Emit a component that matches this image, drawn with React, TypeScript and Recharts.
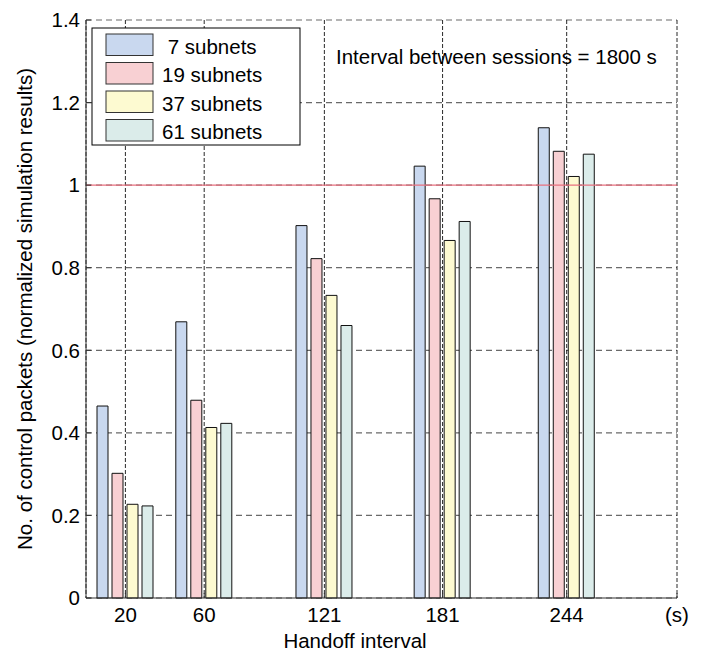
import React from "react";
import {
  Bar,
  CartesianGrid,
  ComposedChart,
  Label,
  ReferenceLine,
  XAxis,
  YAxis,
} from "recharts";

// handoff intervals (s)
const intervals = [20, 60, 121, 181, 244];
const subnets7 = [0.465, 0.669, 0.902, 1.046, 1.139];
const subnets19 = [0.302, 0.479, 0.822, 0.967, 1.082];
const subnets37 = [0.227, 0.413, 0.733, 0.866, 1.021];
const subnets61 = [0.223, 0.423, 0.66, 0.912, 1.075];

const seriesNames = [" 7 subnets", "19 subnets", "37 subnets", "61 subnets"];
const seriesKeys = ["s7", "s19", "s37", "s61"];
const seriesColors = ["#c9d8ef", "#f8d0d3", "#fdfad1", "#dbecea"];

const xTicks = [20, 60, 121, 181, 244, 300];
const yTicks = [0, 0.2, 0.4, 0.6, 0.8, 1, 1.2, 1.4];
const annotation = "Interval between sessions = 1800 s";

const data = intervals.map((x, i) => ({
  x,
  s7: subnets7[i],
  s19: subnets19[i],
  s37: subnets37[i],
  s61: subnets61[i],
}));

const FONT = '"Liberation Sans", Arial, Helvetica, sans-serif';
const FS = 20.5;
const W = 688;
const H = 645;

const tickStyle = { fontSize: FS, fill: "#000", fontFamily: FONT };

export default function App() {
  return (
    <div style={{ position: "relative", width: W, height: H, fontFamily: FONT }}>
      <ComposedChart
        width={W}
        height={H}
        data={data}
        margin={{ top: 12, right: 19, bottom: 25, left: 0 }}
        barGap={4}
      >
        <CartesianGrid vertical={false} stroke="#6a6a6a" strokeDasharray="6 4" strokeWidth={1.2} />
        <CartesianGrid horizontal={false} stroke="#111" strokeDasharray="4 2" strokeWidth={0.9} />
        <XAxis
          dataKey="x"
          type="number"
          domain={[0, 300]}
          ticks={xTicks}
          tickFormatter={(v) => (v === 300 ? "(s)" : String(v))}
          tick={tickStyle}
          tickSize={-5}
          tickMargin={14}
          height={30}
          axisLine={{ stroke: "#333" }}
          tickLine={{ stroke: "#333" }}
          interval={0}
        >
          <Label
            content={({ viewBox }: any) => (
              <text
                x={viewBox.x + viewBox.width / 2 - 26.5}
                y={viewBox.y + 50}
                textAnchor="middle"
                fontSize={FS}
                fontFamily={FONT}
                fill="#000"
              >
                Handoff interval
              </text>
            )}
          />
        </XAxis>
        <XAxis
          xAxisId="top"
          orientation="top"
          type="number"
          domain={[0, 300]}
          ticks={xTicks.slice(0, 5)}
          tick={false}
          tickSize={-5}
          height={0}
          axisLine={{ stroke: "#333" }}
          tickLine={{ stroke: "#333" }}
        />
        <YAxis
          type="number"
          domain={[0, 1.4]}
          ticks={yTicks}
          tick={tickStyle}
          tickSize={-5}
          tickMargin={11}
          width={78}
          axisLine={{ stroke: "#333" }}
          tickLine={{ stroke: "#333" }}
          interval={0}
        >
          <Label
            content={({ viewBox }: any) => {
              const cx = viewBox.x + 24;
              const cy = viewBox.y + viewBox.height / 2;
              return (
                <text
                  x={cx}
                  y={cy}
                  transform={`rotate(-90, ${cx}, ${cy})`}
                  textAnchor="middle"
                  fontSize={FS}
                  fontFamily={FONT}
                  fill="#000"
                >
                  No. of control packets (normalized simulation results)
                </text>
              );
            }}
          />
        </YAxis>
        <YAxis
          yAxisId="right"
          orientation="right"
          type="number"
          domain={[0, 1.4]}
          ticks={yTicks}
          tick={false}
          tickSize={-5}
          width={0}
          axisLine={{ stroke: "#333" }}
          tickLine={{ stroke: "#333" }}
        />
        {seriesKeys.map((k, i) => (
          <Bar
            key={k}
            dataKey={k}
            name={seriesNames[i]}
            fill={seriesColors[i]}
            stroke="#111"
            strokeWidth={1}
            barSize={11}
            isAnimationActive={false}
          />
        ))}
        <ReferenceLine y={1} stroke="#e8707f" strokeWidth={1.4} />
      </ComposedChart>

      <svg
        width={W}
        height={H}
        style={{ position: "absolute", left: 0, top: 0, pointerEvents: "none" }}
      >
        <text x={328} y={56.3} fontSize={FS} fontFamily={FONT} fill="#000">
          {annotation}
        </text>
        <rect x={84} y={20} width={208} height={117} fill="#fff" stroke="#000" strokeWidth={1} />
        {seriesNames.map((n, i) => (
          <g key={n}>
            <rect
              x={98}
              y={26 + i * 28.5}
              width={47}
              height={21.5}
              fill={seriesColors[i]}
              stroke="#333"
              strokeWidth={1}
            />
            <text
              x={154}
              y={26 + i * 28.5 + 19.5}
              fontSize={FS}
              fontFamily={FONT}
              fill="#000"
              style={{ whiteSpace: "pre" }}
            >
              {n}
            </text>
          </g>
        ))}
      </svg>
    </div>
  );
}
